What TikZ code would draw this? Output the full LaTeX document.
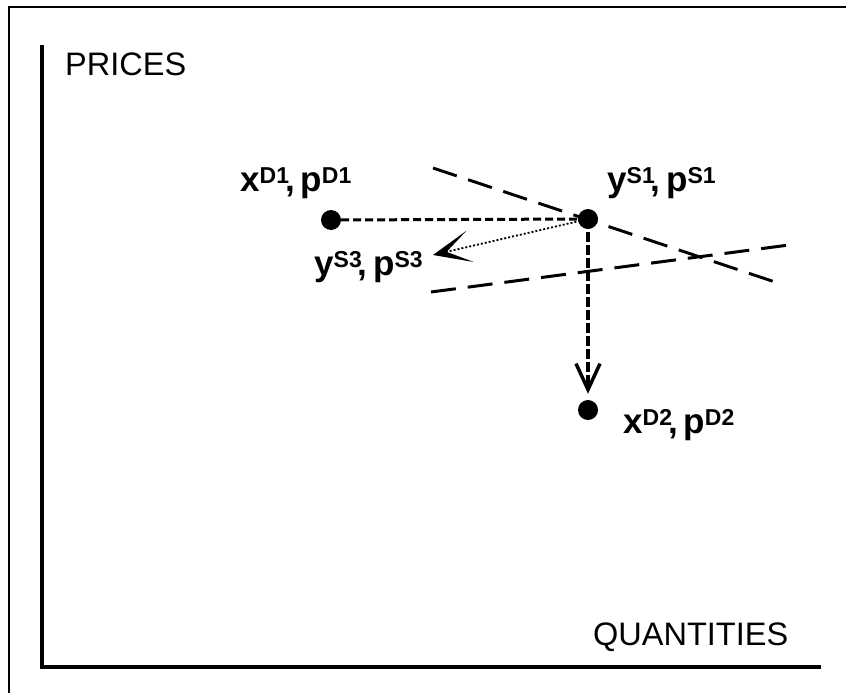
\documentclass[tikz,border=0pt]{standalone}
\usepackage{fontspec}
\setmainfont{Liberation Sans}
\usetikzlibrary{arrows.meta}
\newcommand{\supx}[1]{\raisebox{8pt}{\fontsize{23}{23}\selectfont #1}}
\newcommand{\lbl}[3]{\textbf{#1\supx{#2}\kern-4pt,\kern-4pt\ p\supx{#3}}}
\tikzset{
  dot/.style={circle,fill=black,inner sep=0pt,minimum size=20pt},
  lab/.style={anchor=base west,inner sep=0pt,font=\fontsize{35}{35}\selectfont},
  axlab/.style={anchor=base west,inner sep=0pt,font=\fontsize{32.5}{32}\selectfont},
  curve/.style={line width=3pt,dash pattern=on 25pt off 12pt},
  link/.style={line width=3pt,dash pattern=on 8pt off 4pt},
  vlink/.style={line width=4pt,dash pattern=on 10pt off 3pt},
  dlink/.style={line width=1.8pt,dash pattern=on 2pt off 2pt}
}
\begin{document}
\begin{tikzpicture}[x=1pt,y=-1pt]
\useasboundingbox (0,0) rectangle (846,693);
% frame
\draw[line width=1.5pt] (9,693) -- (9,7) -- (846,7);
% axes
\draw[line width=4pt] (42,45) -- (42,667) -- (821,667);
\node[axlab] (prices) at (65,76) {PRICES};
\node[axlab] (quant) at (593,645) {QUANTITIES};
% curves
\coordinate (c1a) at (433,168);
\coordinate (c1b) at (781,284);
\coordinate (c2a) at (431,292);
\coordinate (c2b) at (789,245);
\draw[curve] (c1a) -- (c1b);
\draw[curve] (c2a) -- (c2b);
% points
\node[dot] (d1) at (331,220) {};
\node[dot] (s1) at (588,219) {};
\node[dot] (d2) at (588,410) {};
\coordinate (s3tip) at (433,255);
% connectors
\draw[link] (d1) -- (s1.center);
\draw[vlink,-{Straight Barb[length=26pt,width=24pt,line width=3.5pt]},shorten >=6pt] (s1.center) -- (d2);
\draw[dlink,-{Stealth[length=38pt,width=32pt,inset=24pt,line width=0pt]}] (s1.center) -- (s3tip);
% labels
\node[lab] (ld1) at (240,191) {\lbl{x}{D1}{D1}};
\node[lab] (ls1) at (607,191) {\lbl{y}{S1}{S1}};
\node[lab] (ls3) at (314,275) {\lbl{y}{S3}{S3}};
\node[lab] (ld2) at (623,433) {\lbl{x}{D2}{D2}};
\end{tikzpicture}
\end{document}
